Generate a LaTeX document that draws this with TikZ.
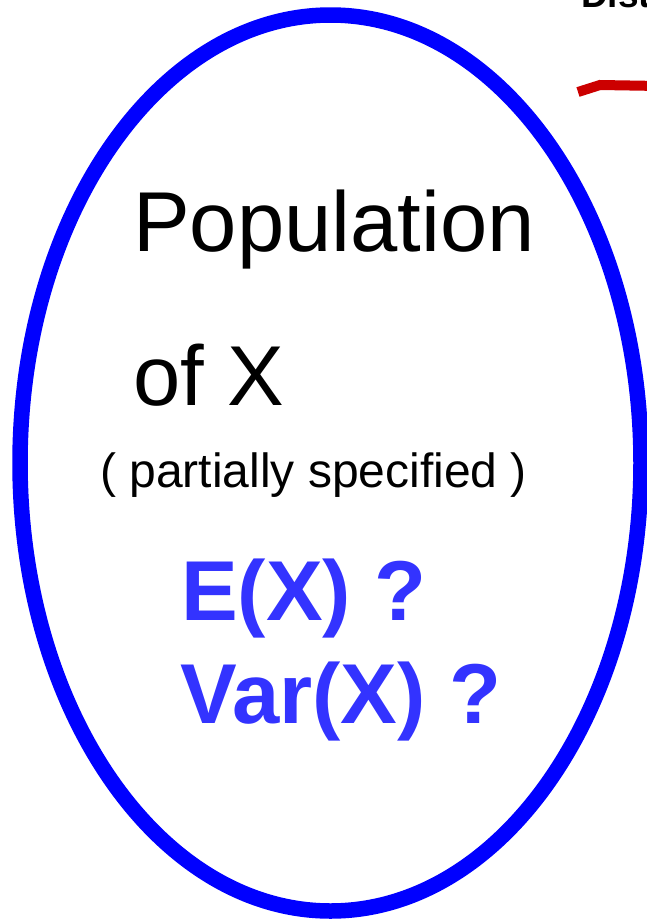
\documentclass[tikz,border=0pt]{standalone}
\usepackage{fontspec}
\setmainfont{Liberation Sans}
\usetikzlibrary{shapes.geometric}

\definecolor{popblue}{RGB}{0,0,255}
\definecolor{askblue}{RGB}{51,51,255}
\definecolor{linered}{RGB}{204,0,0}

\begin{document}
\begin{tikzpicture}[
  x=1pt, y=-1pt,
  population/.style={ellipse, draw=popblue, line width=15.5pt,
                     minimum width=621pt, minimum height=896pt, inner sep=0pt},
  bigtext/.style={anchor=base west, inner sep=0pt, font=\fontsize{85}{90}\selectfont},
  smalltext/.style={anchor=base west, inner sep=0pt, font=\fontsize{48}{50}\selectfont},
  asktext/.style={anchor=base west, inner sep=0pt, text=askblue,
                  font=\fontsize{85}{90}\selectfont\bfseries},
  titletext/.style={anchor=base west, inner sep=0pt, font=\fontsize{37}{40}\selectfont\bfseries},
  redline/.style={draw=linered, line width=10pt}
]
\useasboundingbox (0,0) rectangle (647,919);

% ---------- Population ----------
\node[population] (pop) at (330.5,463) {};

% ---------- Texts ----------
\node[bigtext] (poplab) at (133,251) {Population};
\node[bigtext] (oflab) at (133,405) {of X};
\node[smalltext] (partlab) at (100,487) {( partially specified )};
\node[asktext] (mean) at (181,620) {E(X) ?};
\node[asktext] (var) at (180,723) {Var(X) ?};

% ---------- Top right ----------
\node[titletext] (dist) at (581,7) {Dist};
\coordinate (redstart) at (578,92);
\coordinate (redend) at (660,86);
\draw[redline] (redstart) -- (600,85) -- (redend);

\end{tikzpicture}
\end{document}
